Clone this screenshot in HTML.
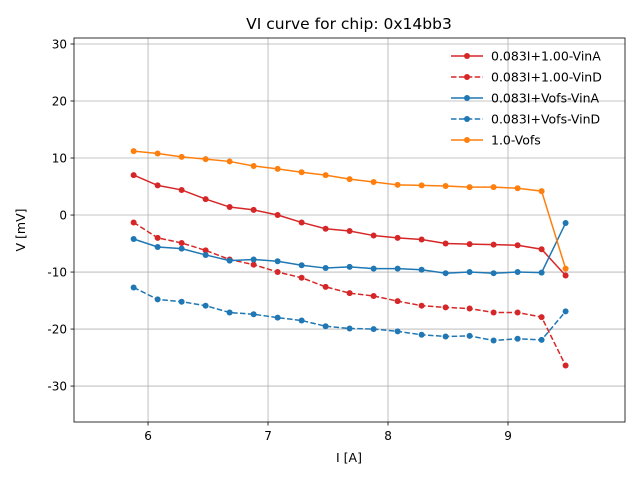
<!DOCTYPE html>
<html><head><meta charset="utf-8"><style>
body{margin:0;background:#fff;font-family:"Liberation Sans","DejaVu Sans",sans-serif;}
svg text{font-family:"DejaVu Sans","Liberation Sans",sans-serif;}
</style></head><body>
<svg id="chart" width="640" height="480" viewBox="0 0 640 480"></svg>
<script>
const xVals=[5.88,6.08,6.28,6.48,6.68,6.88,7.08,7.28,7.48,7.68,7.88,8.08,8.28,8.48,8.68,8.88,9.08,9.28,9.48];
const vinA=[7.0,5.2,4.4,2.8,1.4,0.9,0.0,-1.3,-2.4,-2.8,-3.6,-4.0,-4.3,-5.0,-5.1,-5.2,-5.3,-6.0,-10.6];
const vinD=[-1.3,-4.0,-4.9,-6.2,-7.8,-8.7,-10.0,-11.0,-12.6,-13.7,-14.2,-15.1,-15.9,-16.2,-16.4,-17.1,-17.1,-17.9,-26.4];
const vofsA=[-4.2,-5.6,-5.9,-7.0,-8.0,-7.8,-8.1,-8.8,-9.3,-9.1,-9.4,-9.4,-9.6,-10.2,-10.0,-10.2,-10.0,-10.1,-1.4];
const vofsD=[-12.7,-14.8,-15.2,-15.9,-17.1,-17.4,-18.0,-18.5,-19.5,-19.9,-20.0,-20.4,-21.0,-21.3,-21.2,-22.0,-21.7,-21.9,-16.9];
const vofs=[11.2,10.8,10.2,9.8,9.4,8.6,8.1,7.5,7.0,6.3,5.8,5.3,5.2,5.1,4.9,4.9,4.7,4.2,-9.4];
const xTicks=[6,7,8,9];
const yTicks=[30,20,10,0,-10,-20,-30];
const seriesNames=["0.083I+1.00-VinA","0.083I+1.00-VinD","0.083I+Vofs-VinA","0.083I+Vofs-VinD","1.0-Vofs"];
const L=74,R=625,T=38,B=422;
const xMin=5.383,xMax=9.975,yMin=-36.3,yMax=31.05;
const sx=v=>L+(v-xMin)/(xMax-xMin)*(R-L);
const sy=v=>B-(v-yMin)/(yMax-yMin)*(B-T);
const svg=document.getElementById('chart');
const NS='http://www.w3.org/2000/svg';
function mk(tag,attrs,parent){const e=document.createElementNS(NS,tag);for(const k in attrs)e.setAttribute(k,attrs[k]);(parent||svg).appendChild(e);return e;}
xTicks.forEach(t=>{const g=mk('line',{x1:sx(t),x2:sx(t),y1:T,y2:B,stroke:'#b0b0b0','stroke-width':0.8});


mk('line',{x1:sx(t),x2:sx(t),y1:B,y2:B+3.5,stroke:'#000','stroke-width':0.8});
const lb=mk('text',{x:sx(t),y:B+18,'font-size':12,'text-anchor':'middle'});lb.textContent=t;

});
yTicks.forEach(t=>{const g=mk('line',{x1:L,x2:R,y1:sy(t),y2:sy(t),stroke:'#b0b0b0','stroke-width':0.8});


mk('line',{x1:L-3.5,x2:L,y1:sy(t),y2:sy(t),stroke:'#000','stroke-width':0.8});
const lb=mk('text',{x:L-7,y:sy(t)+4.5,'font-size':12,'text-anchor':'end'});lb.textContent=t;

});
const series=[[vinA,'#d62728',false],[vinD,'#d62728',true],[vofsA,'#1f77b4',false],[vofsD,'#1f77b4',true],[vofs,'#ff7f0e',false]];
series.forEach(([d,c,dash],i)=>{
 const g=mk('g',{});
 
 
 const pts=d.map((v,j)=>sx(xVals[j])+','+sy(v)).join(' ');
 mk('polyline',{points:pts,fill:'none',stroke:c,'stroke-width':1.5,'stroke-dasharray':dash?'5.5,2.4':'none'},g);
 d.forEach((v,j)=>{const p=mk('circle',{cx:sx(xVals[j]),cy:sy(v),r:3,fill:c},g);
 
 });
});
mk('rect',{x:L,y:T,width:R-L,height:B-T,fill:'none',stroke:'#000','stroke-width':0.8});
series.forEach(([d,c,dash],i)=>{
 const y=56+i*21;
 const g=mk('g',{});
 
 
 mk('line',{x1:451,x2:483,y1:y,y2:y,stroke:c,'stroke-width':1.5,'stroke-dasharray':dash?'5.5,2.4':'none'},g);
 mk('circle',{cx:467,cy:y,r:3,fill:c},g);
 const t=mk('text',{x:491,y:y+4.5,'font-size':12.5},g);t.textContent=seriesNames[i];
});
</script>
<script>
const s=document.getElementById('chart');
const ns='http://www.w3.org/2000/svg';
const tt=document.createElementNS(ns,'text');tt.setAttribute('x',349);tt.setAttribute('y',29);tt.setAttribute('font-size',15.5);tt.setAttribute('text-anchor','middle');tt.textContent='VI curve for chip: 0x14bb3';


s.appendChild(tt);
const xl=document.createElementNS(ns,'text');xl.setAttribute('x',349);xl.setAttribute('y',462);xl.setAttribute('font-size',12.5);xl.setAttribute('text-anchor','middle');xl.textContent='I [A]';


s.appendChild(xl);
const yl=document.createElementNS(ns,'text');yl.setAttribute('transform','translate(25,230) rotate(-90)');yl.setAttribute('font-size',12.5);yl.setAttribute('text-anchor','middle');yl.textContent='V [mV]';


s.appendChild(yl);
</script>
</body></html>
